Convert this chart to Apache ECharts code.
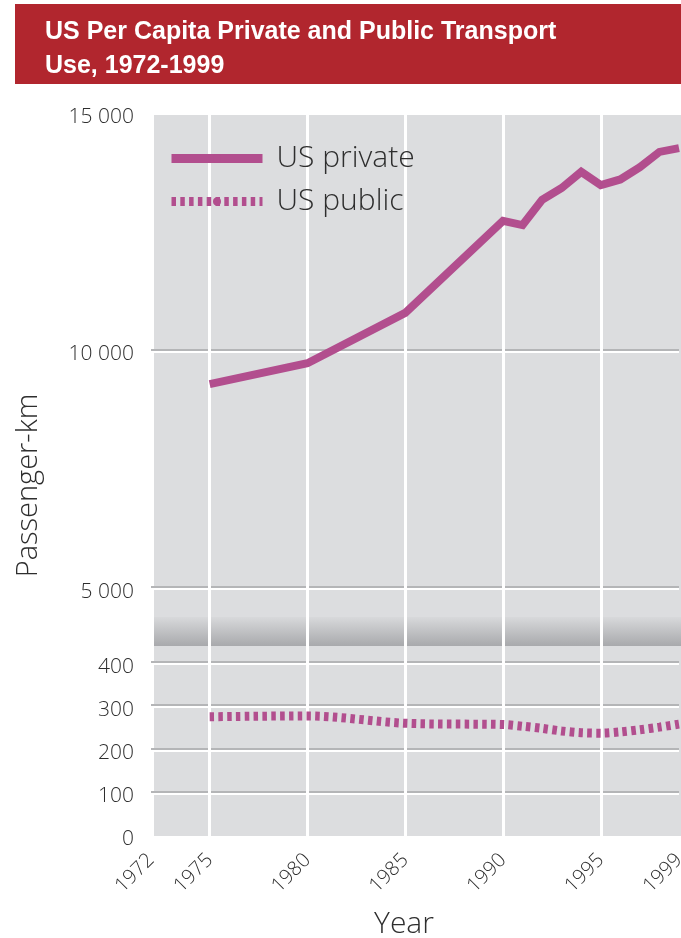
<!DOCTYPE html>
<html>
<head>
<meta charset="utf-8">
<script src="https://cdn.jsdelivr.net/npm/echarts@6/dist/echarts.min.js"></script>
<style>
  html, body { margin: 0; padding: 0; background: #ffffff; }
  #chart { width: 681px; height: 938px; }
</style>
</head>
<body>
<div id="chart"></div>
<script>
// Per capita passenger-km, United States
const years = [1975, 1980, 1985, 1990, 1991, 1992, 1993, 1994, 1995, 1996, 1997, 1998, 1999];
const privateKm = [9270, 9710, 10770, 12710, 12620, 13150, 13400, 13740, 13460, 13580, 13840, 14160, 14240];
const publicKm = [273, 275, 258, 255, 251, 246, 240, 236, 235, 238, 243, 249, 256];
const yearTicks = [1972, 1975, 1980, 1985, 1990, 1995, 1999];
const seriesNames = ['US private', 'US public'];

const LABEL_FONT = "'Open Sans', 'Noto Sans', sans-serif";
const TEXT = '#2e2e2e';
const LINE = '#b24e8e';

const pairs = (xs, ys) => xs.map((x, i) => [x, ys[i]]);
const spaced = v => String(v).replace(/\B(?=(\d{3})+(?!\d))/g, ' ');

const chart = echarts.init(document.getElementById('chart'), null, { renderer: 'canvas' });

// grids keep their exact boxes; labels are allowed to run to the page edge
const gridRow = { left: 151, width: 528, outerBoundsMode: 'none', containLabel: false };
const hLine = {
  show: true,
  lineStyle: { color: '#b4b5b7', width: 2, shadowColor: '#ffffff', shadowOffsetY: 2, shadowBlur: 0 }
};
// value labels sit a little below their grid line
const yLabel = {
  margin: 17, fontSize: 21, color: TEXT, fontFamily: LABEL_FONT, fontWeight: 300,
  verticalAlign: 'top', lineHeight: 10, formatter: spaced
};

chart.setOption({
  animation: false,
  title: {
    text: 'US Per Capita Private and Public Transport\nUse, 1972-1999',
    left: 40, top: 10,
    textStyle: {
      color: '#ffffff', fontSize: 25, fontWeight: 'bold', lineHeight: 34,
      fontFamily: "'Liberation Sans Narrow', 'Liberation Sans', sans-serif"
    }
  },
  graphic: [
    { type: 'rect', z: -3, shape: { x: 15, y: 4, width: 666, height: 80 }, style: { fill: '#b1262e' } },
    { type: 'rect', z: -2, shape: { x: 154, y: 115, width: 527, height: 721 }, style: { fill: '#dcdddf' } },
    {
      type: 'rect', z: -1, shape: { x: 154, y: 617, width: 527, height: 29 },
      style: {
        fill: new echarts.graphic.LinearGradient(0, 0, 0, 1, [
          { offset: 0, color: '#d8d9db' },
          { offset: 1, color: '#a8a9ac' }
        ])
      }
    }
  ],
  legend: {
    orient: 'vertical', left: 162, top: 138,
    itemWidth: 91, itemHeight: 10, itemGap: 12,
    data: seriesNames,
    lineStyle: { width: 9 },
    textStyle: { fontSize: 30, lineHeight: 31, color: TEXT, fontFamily: LABEL_FONT, fontWeight: 300, padding: [0, 0, 0, 9] }
  },
  grid: [
    { ...gridRow, top: 115, height: 721 },
    { ...gridRow, top: 112, height: 475 },
    { ...gridRow, top: 662, height: 172.5 }
  ],
  xAxis: [
    {
      gridIndex: 0, type: 'value', min: 1972, max: 1999,
      axisLine: { show: false },
      axisTick: { show: false, customValues: yearTicks },
      axisLabel: {
        customValues: yearTicks, rotate: 45, margin: 21,
        fontSize: 20, color: TEXT, fontFamily: LABEL_FONT, fontWeight: 300,
        formatter: v => String(v)
      },
      splitLine: { show: true, showMinLine: false, showMaxLine: false, lineStyle: { color: '#ffffff', width: 3 } },
      name: 'Year', nameLocation: 'middle', nameGap: 73,
      nameTextStyle: { fontSize: 30, color: TEXT, fontFamily: LABEL_FONT, fontWeight: 300, padding: [0, 22, 0, 0] }
    },
    { gridIndex: 1, type: 'value', min: 1972, max: 1999, show: false },
    { gridIndex: 2, type: 'value', min: 1972, max: 1999, show: false }
  ],
  yAxis: [
    {
      gridIndex: 0, type: 'value', min: 0, max: 1,
      axisLine: { show: false }, axisTick: { show: false }, axisLabel: { show: false }, splitLine: { show: false },
      name: 'Passenger-km', nameLocation: 'middle', nameGap: 108, nameRotate: 90,
      nameTextStyle: { fontSize: 29, color: TEXT, fontFamily: LABEL_FONT, fontWeight: 300, padding: [0, 20, 0, 0] }
    },
    {
      gridIndex: 1, type: 'value', min: 5000, max: 15000, interval: 5000,
      axisLine: { show: false }, axisTick: { show: false },
      axisLabel: yLabel,
      splitLine: { ...hLine, showMaxLine: false }
    },
    {
      gridIndex: 2, type: 'value', min: 0, max: 400, interval: 100,
      axisLine: { show: false }, axisTick: { show: false },
      axisLabel: yLabel,
      splitLine: { ...hLine, showMinLine: false }
    }
  ],
  series: [
    {
      name: seriesNames[0], type: 'line', xAxisIndex: 1, yAxisIndex: 1,
      data: pairs(years, privateKm), symbol: 'none', z: 5,
      lineStyle: { color: LINE, width: 8, join: 'miter' }, itemStyle: { color: LINE }
    },
    {
      name: seriesNames[1], type: 'line', xAxisIndex: 2, yAxisIndex: 2,
      data: pairs(years, publicKm), symbol: 'none', smooth: 0.3, z: 5,
      lineStyle: { color: LINE, width: 9, type: [4.5, 4.3], cap: 'butt' }, itemStyle: { color: LINE }
    }
  ]
});
</script>
</body>
</html>
